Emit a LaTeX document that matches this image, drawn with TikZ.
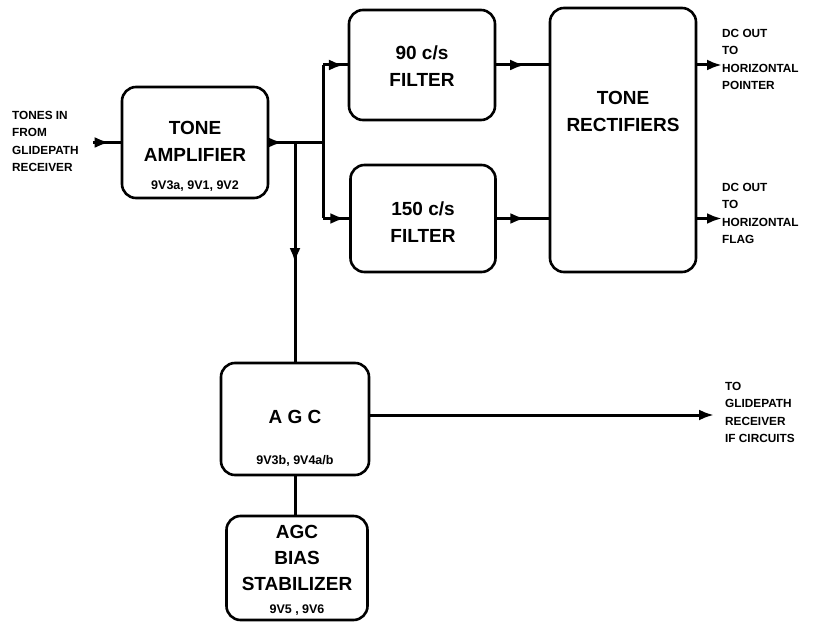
\documentclass[tikz,border=0pt]{standalone}
\usepackage{fontspec}
\setmainfont{Liberation Sans}
\usetikzlibrary{arrows.meta,decorations.markings}
\tikzset{
  blk/.style={draw, line width=2.6pt, rounded corners=14pt, inner sep=0pt},
  wire/.style={line width=3pt},
  midarr/.style={postaction={decorate}, decoration={markings, mark=at position #1 with {\arrow{Latex[length=15pt,width=11pt]}}}},
  endarr/.style={-{Latex[length=15pt,width=11pt]}},
  big/.style={font=\bfseries\fontsize{19}{27}\selectfont, align=center, inner sep=0pt},
  sub/.style={font=\bfseries\fontsize{12.5}{14}\selectfont, inner sep=0pt},
  side/.style={font=\bfseries\fontsize{11.8}{17.5}\selectfont, align=left, anchor=north west, inner sep=0pt},
}
\begin{document}
\begin{tikzpicture}[x=1pt,y=-1pt]
\useasboundingbox (0,0) rectangle (815,623);
% boxes
\node[blk, minimum width=146pt, minimum height=111pt] (amp) at (195,142.5) {};
\node[blk, minimum width=146pt, minimum height=110pt] (f90) at (422,65) {};
\node[blk, minimum width=145pt, minimum height=107pt] (f150) at (423,218.5) {};
\node[blk, minimum width=146pt, minimum height=264pt] (rect) at (623,140) {};
\node[blk, minimum width=148pt, minimum height=112pt] (agc) at (295,419) {};
\node[blk, minimum width=141pt, minimum height=104pt] (bias) at (297,568) {};
% box texts
\node[big] (ampt) at (195,141) {TONE\\AMPLIFIER};
\node[sub] (amps) at (195,186) {9V3a, 9V1, 9V2};
\node[big] (f90t) at (422,66) {90 c/s\\FILTER};
\node[big] (f150t) at (423,222) {150 c/s\\FILTER};
\node[big] (rectt) at (623,111) {TONE\\RECTIFIERS};
\node[big] (agct) at (295,417) {A G C};
\node[sub] (agcs) at (295,461) {9V3b, 9V4a/b};
\node[big, font=\bfseries\fontsize{19}{26}\selectfont] (biast) at (297,558) {AGC\\BIAS\\STABILIZER};
\node[sub] (biass) at (297,610) {9V5 , 9V6};
% side texts
\node[side] (inlab) at (12,111) {TONES IN\\FROM\\GLIDEPATH\\RECEIVER};
\node[side] (o1lab) at (722,29) {DC OUT\\TO\\HORIZONTAL\\POINTER};
\node[side] (o2lab) at (722,183) {DC OUT\\TO\\HORIZONTAL\\FLAG};
\node[side] (o3lab) at (725,382) {TO\\GLIDEPATH\\RECEIVER\\IF CIRCUITS};
% coordinates
\coordinate (inS) at (93,142.5);
\coordinate (bus) at (323,142.5);
\coordinate (busT) at (323,65);
\coordinate (busB) at (323,218.5);
\coordinate (tap) at (295,142.5);
\coordinate (o1) at (722,65);
\coordinate (o2) at (722,218.5);
\coordinate (agcO) at (369,415);
\coordinate (o3) at (714,415);
% connectors
\draw[wire, midarr=0.6] (inS) -- (amp.west);
\draw[wire, midarr=0.25] (amp.east) -- (bus);
\draw[wire] (busT) -- (busB);
\draw[wire, midarr=0.85] (busT) -- (f90.west);
\draw[wire, midarr=0.85] (busB) -- (f150.west);
\draw[wire, midarr=0.55] (tap) -- (agc.north);
\draw[wire, midarr=0.55] (f90.east) -- (rect.west |- f90.east);
\draw[wire, midarr=0.55] (f150.east) -- (rect.west |- f150.east);
\draw[wire, endarr] (rect.east |- o1) -- (o1);
\draw[wire, endarr] (rect.east |- o2) -- (o2);
\draw[wire, endarr] (agcO) -- (o3);
\draw[wire] (agc.south) -- (agc.south |- bias.north);
\end{tikzpicture}
\end{document}
